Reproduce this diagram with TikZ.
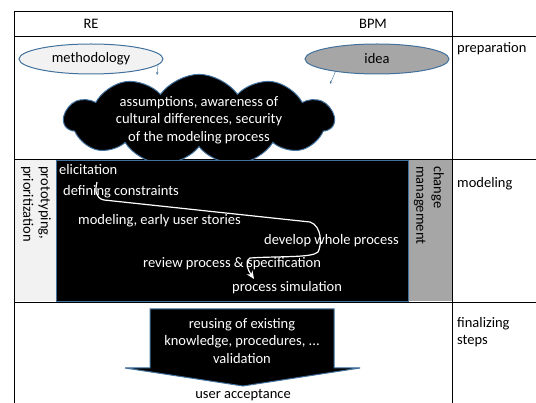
\documentclass[tikz,border=0pt]{standalone}
\usepackage{fontspec}
\setmainfont{Carlito}
\usetikzlibrary{shapes.geometric,shapes.symbols,arrows.meta}
\definecolor{frameblue}{HTML}{41719C}
\definecolor{lightgrey}{HTML}{F2F2F2}
\definecolor{midgrey}{HTML}{A6A6A6}

\begin{document}
\begin{tikzpicture}[x=1pt, y=-1pt, font=\fontsize{14.5}{17.5}\selectfont,
    bubble/.style={draw=frameblue, line width=1pt, ellipse, minimum width=144pt, minimum height=30pt, inner sep=0pt},
    task/.style={anchor=base west, text=white, inner sep=0pt},
    phase/.style={anchor=west, align=left, inner sep=0pt},
    side/.style={rotate=-90, anchor=west, align=left, inner sep=0pt}]
    \useasboundingbox (0,0) rectangle (536,403);

    \fill[lightgrey] (14,160) rectangle (56,301);
    \fill[midgrey] (408,160) rectangle (452,301);
    \draw[line width=0.8pt] (14,403) -- (14,11) -- (452,11) -- (452,403);
    \foreach \y in {36,159,302} \draw[line width=0.8pt] (14,\y) -- (536,\y);

    \node at (91,24) (re) {RE};
    \node at (373,24) (bpm) {BPM};
    \node[phase] at (457,49) (prep) {preparation};
    \node[phase] at (457,184) (modl) {modeling};
    \node[phase] at (457,332) (final) {finalizing\\steps};

    \node[bubble, fill=lightgrey] at (91,59) (meth) {methodology};
    \node[bubble, fill=midgrey] at (377,59) (idea) {idea};
    \node[cloud, cloud puffs=11, cloud puff arc=110, aspect=3.6, draw=frameblue, line width=1pt, fill=black, text=white, align=center, minimum width=270pt, minimum height=66pt, inner sep=-5pt] at (199,120) (cloud) {assumptions, awareness of\\cultural differences, security\\of the modeling process};
    \coordinate (methtip) at (157,75);
    \coordinate (ideatip) at (330,84);
    \draw[frameblue, -{Stealth[length=3pt]}] (meth.-5) -- (methtip);
    \draw[frameblue, -{Stealth[length=3pt]}] (idea.-163) -- (ideatip);

    \node[draw=frameblue, fill=black, line width=0.6pt, minimum width=352pt, minimum height=141pt, inner sep=0pt] at (232,230.5) (model) {};
    \node[side] at (36,166) (proto) {prototyping,\\prioritization};
    \node[side] at (429,166) (change) {change\\management};

    \node[task] at (59,175) (elic) {elicitation};
    \node[task] at (63,196) (constr) {defining constraints};
    \node[task] at (78,225) (stories) {modeling, early user stories};
    \node[task] at (264,245) (whole) {develop whole process};
    \node[task] at (143,268) (review) {review process \& specification};
    \node[task] at (232,292) (sim) {process simulation};
    \coordinate (flowstart) at (97,182);
    \coordinate (flowend) at (254,279);
    \draw[white, line width=1.2pt, -{Stealth[length=8pt, width=7pt]}] (flowstart) .. controls (95,190) and (95,198) .. (104,200) -- (310,222) .. controls (322,226) and (322,245) .. (318,252) .. controls (312,258) and (280,256) .. (250,258) .. controls (244,262) and (248,270) .. (flowend);

    \filldraw[draw=frameblue, fill=black, line width=1pt] (150,309) -- (334,309) -- (334,368) -- (360,368) -- (243,386) -- (125,368) -- (150,368) -- cycle;
    \node[text=white, align=center] at (242,341) (reuse) {reusing of existing\\knowledge, procedures, ...\\validation};
    \node at (243,395) (accept) {user acceptance};
\end{tikzpicture}
\end{document}
